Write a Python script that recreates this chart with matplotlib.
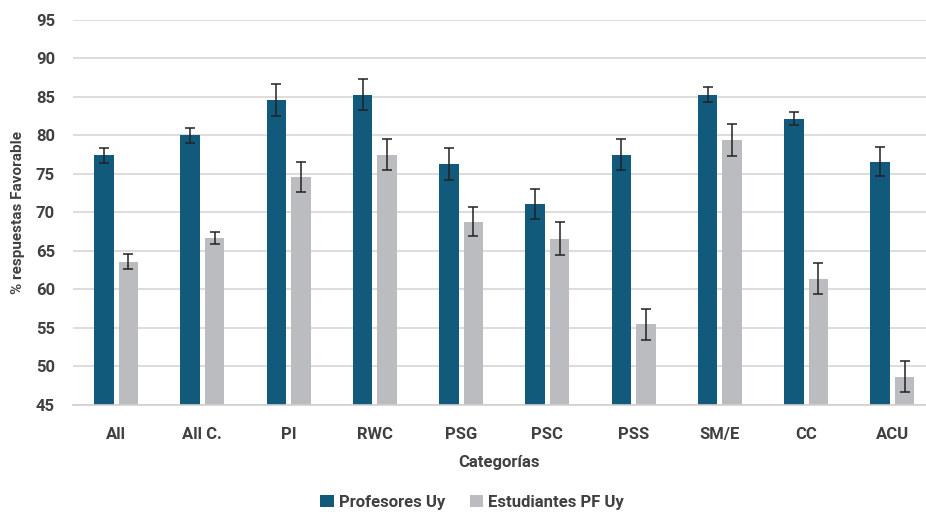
import numpy as np
import matplotlib.pyplot as plt

categorias = ["All", "All C.", "PI", "RWC", "PSG", "PSC", "PSS", "SM/E", "CC", "ACU"]
profesores = [77.4, 80.0, 84.6, 85.3, 76.3, 71.1, 77.5, 85.3, 82.2, 76.6]
profesores_err = [1.0, 1.0, 2.1, 2.0, 2.1, 2.0, 2.0, 1.0, 0.9, 1.9]
estudiantes = [63.6, 66.7, 74.6, 77.5, 68.8, 66.6, 55.5, 79.4, 61.4, 48.7]
estudiantes_err = [1.0, 0.8, 2.0, 2.0, 1.9, 2.1, 2.0, 2.1, 2.0, 2.0]

plt.rcParams['font.family'] = ['Roboto', 'DejaVu Sans']
txt = '#404040'

fig = plt.figure(figsize=(9.26, 5.12), dpi=100)
ax = fig.add_axes([0.0788, 0.209, 0.9212, 0.752])

x = np.arange(len(categorias))
w = 0.226
off = 0.142
ax.bar(x - off, profesores, w, color='#125A7C', label='Profesores Uy', zorder=2)
ax.bar(x + off, estudiantes, w, color='#BBBCC0', label='Estudiantes PF Uy', zorder=2)
ax.errorbar(x - off, profesores, yerr=profesores_err, fmt='none', ecolor='#222222',
            elinewidth=1.1, capsize=3.5, capthick=1.1, zorder=3)
ax.errorbar(x + off, estudiantes, yerr=estudiantes_err, fmt='none', ecolor='#222222',
            elinewidth=1.1, capsize=3.5, capthick=1.1, zorder=3)

ax.set_ylim(45, 95)
ax.set_xlim(-0.5, 9.39)
ax.set_yticks(range(45, 96, 5))
ax.yaxis.grid(True, color='#DCD6D6', linewidth=1.2, zorder=0)
ax.set_axisbelow(True)
for s in ['top', 'right', 'left']:
    ax.spines[s].set_visible(False)
ax.spines['bottom'].set_color('#D0D0D0')
ax.spines['bottom'].set_linewidth(1.2)
ax.tick_params(length=0, labelsize=12, labelcolor=txt, pad=16)
ax.tick_params(axis='y', pad=13)
ax.set_xticks(x)
ax.set_xticklabels(categorias, fontweight='bold')
for t in ax.get_yticklabels():
    t.set_fontweight('bold')

ax.set_xlabel('Categorías', fontsize=12, fontweight='bold', color=txt, labelpad=9)
ax.set_ylabel('% respuestas Favorable', fontsize=11, fontweight='bold', color=txt)
ax.yaxis.set_label_coords(-0.056, 0.5)

fig.legend(loc='lower center', bbox_to_anchor=(0.51, -0.025), ncol=2, frameon=False,
           prop={'weight': 'bold', 'size': 12}, handlelength=0.8, handleheight=0.8,
           handletextpad=0.3, columnspacing=1.5, labelcolor=txt)

fig.savefig('out.png', dpi=100)
